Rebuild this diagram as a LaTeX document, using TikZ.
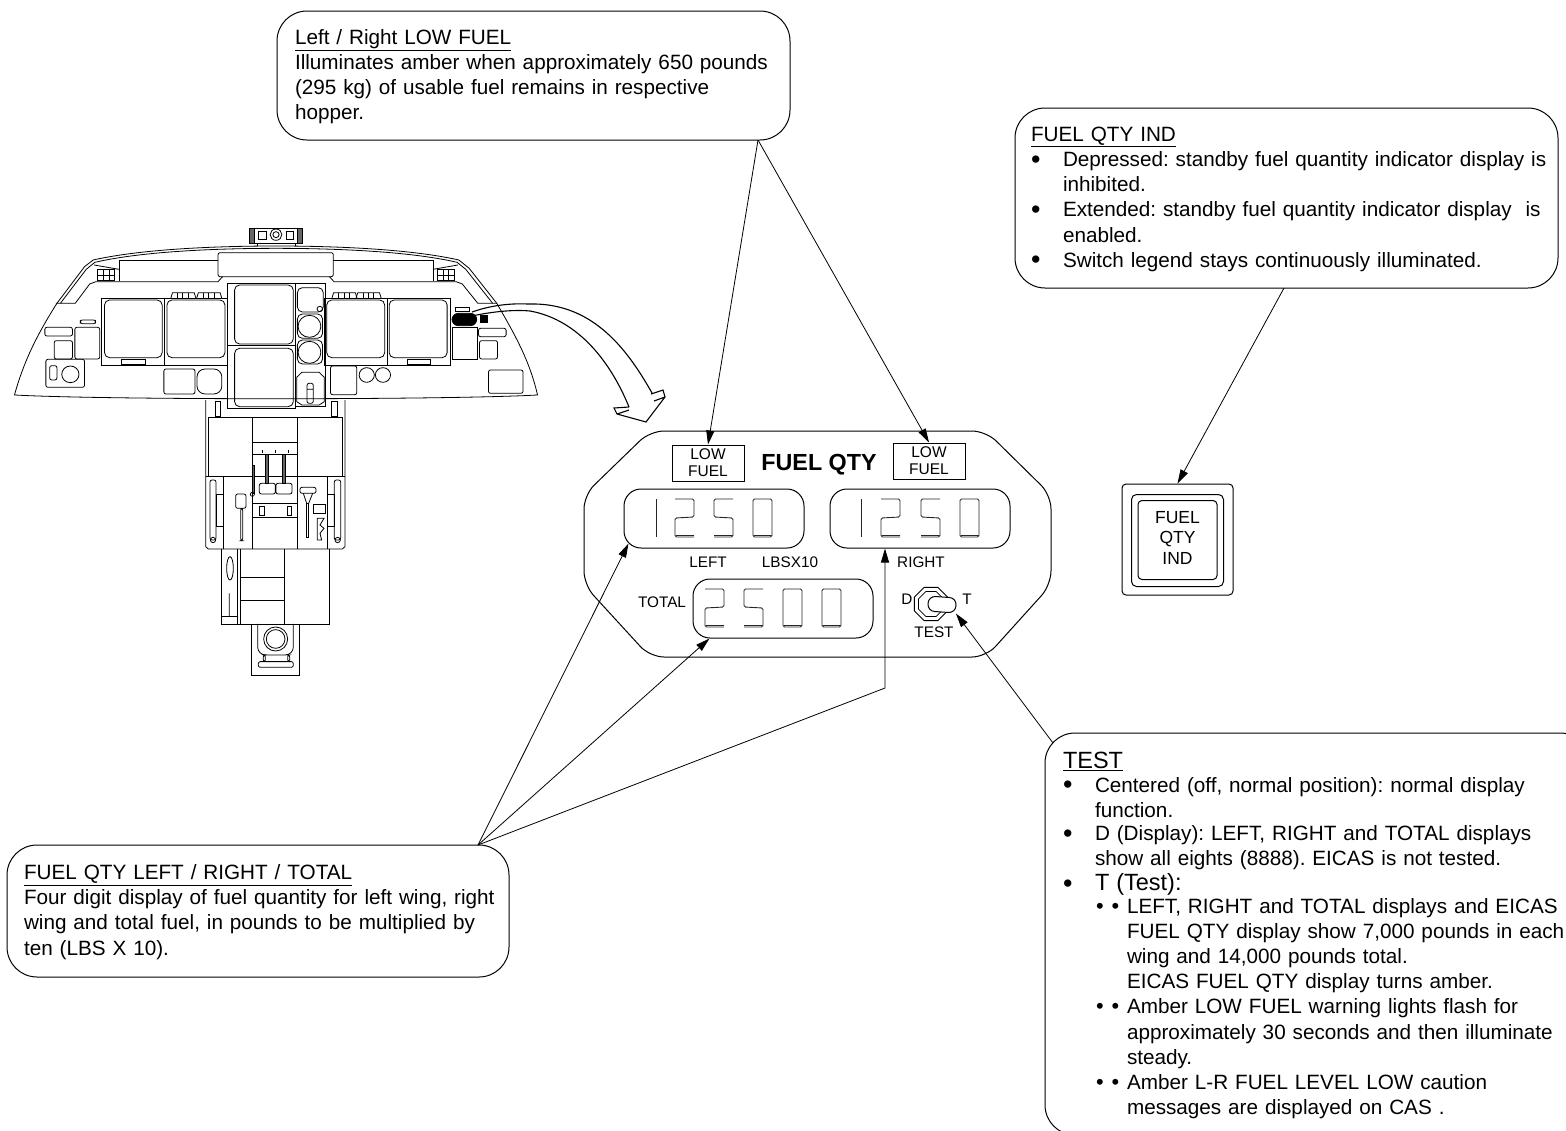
\documentclass[tikz,border=0pt]{standalone}
\usepackage{fontspec}
\setmainfont{Liberation Sans}
\usetikzlibrary{arrows.meta,positioning,shapes.geometric}
\newcommand{\bul}{\makebox[32pt][l]{\raisebox{-1.5pt}{\scalebox{1.3}{\textbullet}}}}
\newcommand{\ind}{\hspace*{32pt}}
\newcommand{\subbul}{\makebox[32pt][l]{\hspace{1pt}\scalebox{1.05}{\textbullet}\hspace{8pt}\scalebox{1.05}{\textbullet}}}
\newcommand{\topstrut}[1]{\rule{0pt}{#1pt}}

\begin{document}
\begin{tikzpicture}[
  x=1pt,y=-1pt,
  callout/.style={draw,align=left,inner xsep=18pt,inner ysep=0pt,outer sep=0pt,rounded corners=30pt,
                  line width=1pt,font=\frenchspacing\fontsize{20.7}{25.2}\selectfont},
  leader/.style={-{Triangle[length=14pt,width=8pt]},line width=0.8pt},
  lowlamp/.style={draw,line width=1pt,align=center,minimum width=72pt,minimum height=36pt,inner sep=0pt,
                  font=\fontsize{15.5}{16.8}\selectfont},
  readout/.style={draw,line width=1pt,rounded corners=17pt,minimum width=180pt,minimum height=59pt,inner sep=0pt},
  lbl/.style={font=\fontsize{15.3}{16}\selectfont,inner sep=0pt},
  seg/.style={line width=0.9pt,black!85,rounded corners=1.5pt},
  plan/.style={line width=0.8pt},
  planbox/.style={line width=0.8pt,rounded corners=2pt},
  digone/.pic={\draw[seg] (0,0) -- (0,38);},
  digtwo/.pic={\draw[seg] (0,0) -- (19,0) -- (19,18) -- (0,19) -- (0,38) -- (19,38) (1,36.5) -- (19,36.5);},
  digfive/.pic={\draw[seg] (19,0) -- (0,0) -- (0,18) -- (19,19) -- (19,38) -- (0,38) (0,36.5) -- (18,36.5);},
  digzero/.pic={\draw[seg] (0,19) -- (0,0) -- (19,0) -- (19,19) -- (19,38) -- (0,38) -- (0,19) (1,36.5) -- (18,36.5);}
]
\clip (0,0) rectangle (1566,1130);

% callouts
\node[callout,text width=477pt,minimum height=129pt] (lowbox) at (533.5,75.5)
  {\topstrut{17}\underline{Left / Right LOW FUEL}\\
   Illuminates amber when approximately 650 pounds\\
   (295 kg) of usable fuel remains in respective\\
   hopper.};
\node[callout,inner xsep=16pt,text width=511pt,minimum height=180pt] (indbox) at (1286.5,198)
  {\topstrut{17}\underline{FUEL QTY IND}\\
   \mbox{\bul Depressed: standby fuel quantity indicator display is}\\
   \ind inhibited.\\
   \mbox{\bul Extended: standby fuel quantity indicator display\ \ is}\\
   \ind enabled.\\
   \bul Switch legend stays continuously illuminated.};
\node[callout,inner xsep=17pt,text width=468pt,minimum height=132pt] (qtybox) at (258,911)
  {\topstrut{17}\underline{FUEL QTY LEFT / RIGHT / TOTAL}\\
   \mbox{Four digit display of fuel quantity for left wing, right}\\
   wing and total fuel, in pounds to be multiplied by\\
   ten (LBS X 10).};
\node[callout,text width=509pt,minimum height=402pt] (testbox) at (1317.5,934)
  {\topstrut{20}{\fontsize{23.5}{25.2}\selectfont\underline{TEST}}\\[-2pt]
   \bul Centered (off, normal position): normal display\\
   \ind function.\\[-2pt]
   \bul D (Display): LEFT, RIGHT and TOTAL displays\\
   \ind show all eights (8888). EICAS is not tested.\\
   \bul {\fontsize{23.5}{25.2}\selectfont T (Test):}\\[-3pt]
   \ind\subbul LEFT, RIGHT and TOTAL displays and EICAS\\
   \ind\ind FUEL QTY display show 7,000 pounds in each\\
   \ind\ind wing and 14,000 pounds total.\\
   \ind\ind EICAS FUEL QTY display turns amber.\\
   \ind\subbul Amber LOW FUEL warning lights flash for\\
   \ind\ind approximately 30 seconds and then illuminate\\
   \ind\ind steady.\\
   \ind\subbul Amber L-R FUEL LEVEL LOW caution\\
   \ind\ind messages are displayed on CAS .};

% fuel panel
\draw[line width=1pt,rounded corners=14pt] (650,431) -- (986,431) -- (1051,495) -- (1051,585) -- (986,657)
  -- (650,657) -- (584,585) -- (584,495) -- cycle;
\node[lowlamp] (lampl) at (708,463) {LOW\\FUEL};
\node[lowlamp] (lampr) at (929,461) {LOW\\FUEL};
\node[font=\bfseries\fontsize{23.3}{25}\selectfont,inner sep=0pt] (paneltitle) at (819,465) {FUEL QTY};
\node[readout] (displ) at (714,518.5) {};
\node[readout] (dispr) at (920,518.5) {};
\node[readout] (disptot) at (783,608.5) {};
\node[lbl] (leftlbl) at (708,562) {LEFT};
\node[lbl] (unitlbl) at (790,562) {LBSX10};
\node[lbl] (rightlbl) at (921,562) {RIGHT};
\node[lbl] (totallbl) at (662,602) {TOTAL};
\node[lbl] (dlbl) at (907,599) {D};
\node[lbl] (tlbl) at (967,599) {T};
\node[lbl] (testlbl) at (934,632) {TEST};
\pic at (656,499) {digone};
\pic at (675,499) {digtwo};
\pic at (714,499) {digfive};
\pic at (753,499) {digzero};
\pic at (861,499) {digone};
\pic at (881,499) {digtwo};
\pic at (921,499) {digfive};
\pic at (960,499) {digzero};
\pic at (705,589) {digtwo};
\pic at (744,589) {digfive};
\pic at (783,589) {digzero};
\pic at (822,589) {digzero};
\node[draw,regular polygon,regular polygon sides=8,minimum size=36pt,inner sep=0pt,line width=0.8pt] (swring) at (931,604) {};
\node[draw,regular polygon,regular polygon sides=8,minimum size=27pt,inner sep=0pt,line width=0.8pt] (swcollar) at (931,604) {};
\node[draw,fill=white,rounded corners=7pt,minimum width=28pt,minimum height=15pt,inner sep=0pt,line width=1pt,rotate=-4] (swlever) at (942,604.5) {};

% switch
\node[draw,line width=1pt,rounded corners=4pt,minimum size=111pt,inner sep=0pt] (indsw) at (1177.5,539.5) {};
\node[draw,line width=1pt,rounded corners=5pt,minimum size=92pt,inner sep=0pt] (indframe) at (1177.5,540.5) {};
\node[draw,line width=1pt,rounded corners=4pt,minimum size=79pt,inner sep=0pt] (indcap) at (1177.5,540) {};
\node[inner sep=0pt,align=center,font=\fontsize{17.5}{20.5}\selectfont] (indtxt) at (1177.5,537.5) {FUEL\\QTY\\IND};

% leaders
\coordinate (lowtail) at (758,140);
\coordinate (indtail) at (1284,288);
\coordinate (qtytail) at (478,845);
\coordinate (testtail) at (1053,743);
\coordinate (bendr) at (885,688);
\draw[leader] (lowtail) -- (lampl.north);
\draw[leader] (lowtail) -- (lampr.north);
\draw[leader] (indtail) -- (indsw.north);
\draw[leader] (qtytail) -- ([xshift=5pt,yshift=5pt]displ.south west);
\draw[leader] (qtytail) -- ([xshift=17pt]disptot.south west);
\draw[leader] (qtytail) -- (bendr) -- ([xshift=-35pt]dispr.south);
\draw[leader] (testtail) -- (swlever.south east);

% cockpit panel, upper part
\begin{scope}[shift={(0,210)},x=0.345pt,y=0.3333pt,yscale=-1]
\draw[plan] (42,555) .. controls (70,450) and (110,370) .. (165,280) -- (245,170) -- (270,150)
  .. controls (420,115) and (650,108) .. (800,108) .. controls (950,108) and (1180,115) .. (1330,150)
  -- (1360,175) -- (1440,280) .. controls (1490,370) and (1535,450) .. (1558,555)
  .. controls (1300,570) and (300,570) .. (42,555) -- cycle;
\draw[plan] (175,280) -- (250,178) -- (275,157) .. controls (420,122) and (650,115) .. (800,115)
  .. controls (950,115) and (1180,122) .. (1325,157) -- (1350,178) -- (1428,280);
\draw[plan] (162,280) -- (218,280) -- (260,222) -- (278,215) -- (632,215) -- (645,200);
\draw[plan] (1440,280) -- (1385,280) -- (1340,222) -- (1322,215) -- (968,215) -- (955,200);
\draw[planbox] (632,128) rectangle (966,200);
\draw[plan] (345,150) -- (632,150) (345,150) -- (345,213) (966,150) -- (1255,150) (1255,150) -- (1255,213);
\draw[plan] (723,55) rectangle (877,100) (745,100) -- (745,108) (855,100) -- (855,108);
\draw[plan,fill=black!60] (723,55) rectangle (737,100) (863,55) rectangle (877,100);
\draw[plan] (750,63) rectangle (772,87) (829,63) rectangle (851,87);
\draw[plan] (800,74) circle[radius=17] (800,74) circle[radius=9];
\draw[plan] (283,178) rectangle (333,212) (300,178) -- (300,212) (316,178) -- (316,212) (283,195) -- (333,195);
\draw[plan] (1267,178) rectangle (1317,212) (1284,178) -- (1284,212) (1300,178) -- (1300,212) (1267,195) -- (1317,195);
\draw[plan] (273,165) -- (345,178) (1255,178) -- (1327,165);
% screens
\draw[plan] (295,265) rectangle (660,465) (477,265) -- (477,465);
\draw[plan] (940,265) rectangle (1305,465) (1122,265) -- (1122,465);
\draw[planbox,rounded corners=5pt] (303,270) rectangle (470,443) (484,270) rectangle (652,443);
\draw[planbox,rounded corners=5pt] (947,270) rectangle (1115,443) (1128,270) rectangle (1296,443);
\draw[plan] (353,447) rectangle (420,462) (1180,447) rectangle (1248,462);
\foreach \xx in {495,570,962,1032} {
  \draw[plan] (\xx,265) -- (\xx+5,248) -- (\xx+68,248) -- (\xx+73,265);
  \foreach \tt in {20,35,50} \draw[plan] (\xx+\tt,248) -- (\xx+\tt,265);
}
\draw[plan] (660,220) rectangle (857,595) (660,407) -- (857,407) (857,220) -- (943,220) -- (943,590) -- (857,590);
\draw[planbox,rounded corners=5pt] (680,225) rectangle (850,402) (680,415) rectangle (850,590);
\draw[planbox,rounded corners=5pt] (862,233) rectangle (937,306) (862,312) rectangle (935,385) (862,390) rectangle (935,462);
\draw[plan] (927,297) circle[radius=8] (897,349) circle[radius=33] (897,427) circle[radius=33];
\draw[plan] (875,487) -- (925,487) -- (940,502) -- (940,575) -- (925,585) -- (875,585) -- (860,575) -- (860,502) -- cycle;
\draw[planbox] (890,520) rectangle (908,580) (890,538) -- (908,538);
% lower panel boxes
\draw[planbox] (475,477) rectangle (565,552) (958,468) rectangle (1034,554) (1416,480) rectangle (1516,550);
\draw[planbox,rounded corners=8pt] (571,477) rectangle (643,552);
\draw[plan] (1063,495) circle[radius=22] (1110,495) circle[radius=22];
\draw[planbox] (130,352) rectangle (210,378) (217,352) rectangle (289,447) (157,392) rectangle (210,447);
\draw[planbox] (133,448) rectangle (245,532) (144,467) rectangle (165,510) (233,330) rectangle (277,341);
\draw[plan] (204,493) circle[radius=25];
\draw[plan] (1319,292) rectangle (1362,304) (1310,352) rectangle (1383,447);
\draw[planbox] (1387,355) rectangle (1467,380) (1390,392) rectangle (1442,447);
\draw[plan,fill=black,rounded corners=6.5pt] (1310,310) rectangle (1382,347);
\draw[plan,fill=black] (1392,316) rectangle (1412,336);
\draw[plan] (623,575) rectangle (640,620) (960,575) rectangle (977,620);
\end{scope}

% curved pointer
\draw[line width=1.1pt] (472,312) .. controls (500,302) and (525,304) .. (528,304)
  .. controls (590,302) and (625,345) .. (652,393)
  (651,394) -- (663,390) -- (665,397) -- (654,401)
  (472,316) .. controls (500,310) and (520,310) .. (530,311)
  .. controls (580,320) and (612,365) .. (629,407)
  (629,407) -- (614,408) -- (617,414) -- (629,410)
  (617,414) -- (646,422) -- (665,397);

% pedestal
\begin{scope}[shift={(190,400)},x=0.3333pt,y=0.3333pt,yscale=-1]
\draw[plan] (47,0) -- (47,440) -- (55,447) -- (457,447) -- (465,440) -- (465,0);
\draw[plan] (55,52) -- (457,52) (55,52) -- (55,230) (457,52) -- (457,230) (47,230) -- (465,230);
\draw[plan] (100,230) -- (100,447) (413,230) -- (413,447) (187,52) -- (187,447) (323,52) -- (323,447);
\draw[plan] (187,128) -- (323,128) (187,163) -- (323,163) (187,310) -- (323,310) (187,352) -- (323,352);
\draw[plan] (218,150) -- (218,160) (256,150) -- (256,160) (296,150) -- (296,160);
\draw[planbox] (208,250) rectangle (256,282) (258,250) rectangle (306,282);
\draw[plan,fill=black!60] (227,162) rectangle (236,250) (277,162) rectangle (287,250);
\draw[planbox] (60,240) rectangle (78,420) (433,240) rectangle (452,420);
\draw[plan] (80,282) rectangle (100,380) (413,282) rectangle (433,380);
\draw[plan] (69,420) circle[radius=8] (443,420) circle[radius=8];
\draw[planbox] (137,282) rectangle (168,325) (152,325) rectangle (158,422);
\draw[planbox] (330,262) rectangle (378,280) (340,280) -- (350,310) (368,280) -- (356,310);
\draw[plan] (350,310) rectangle (356,413) (370,312) rectangle (405,340);
\draw[plan] (382,355) -- (402,355) -- (390,375) -- (402,385) -- (390,400) -- (395,420) -- (382,420) -- cycle;
\draw[plan] (208,318) rectangle (222,347) (291,318) rectangle (305,347);
\draw[plan,fill=black!60] (187,197) rectangle (192,280);
\draw[plan] (187,283) circle[radius=6];
\draw[plan] (95,447) -- (95,672) -- (418,672) -- (418,447) (143,447) -- (143,672) (150,447) -- (150,672) (282,447) -- (282,672);
\draw[plan] (150,533) -- (282,533) (150,602) -- (282,602) (95,648) -- (143,648);
\draw[plan] (120,505) ellipse[x radius=10,y radius=35] (118,580) -- (118,648);
\draw[plan] (185,672) -- (185,825) -- (328,825) -- (328,672);
\draw[planbox,rounded corners=8pt] (203,672) -- (203,765) -- (310,765) -- (310,672);
\draw[plan] (257,717) circle[radius=36] (257,717) circle[radius=28];
\draw[planbox] (205,785) rectangle (310,802) (220,765) rectangle (226,785) (293,765) rectangle (299,785);
\end{scope}
\end{tikzpicture}
\end{document}
